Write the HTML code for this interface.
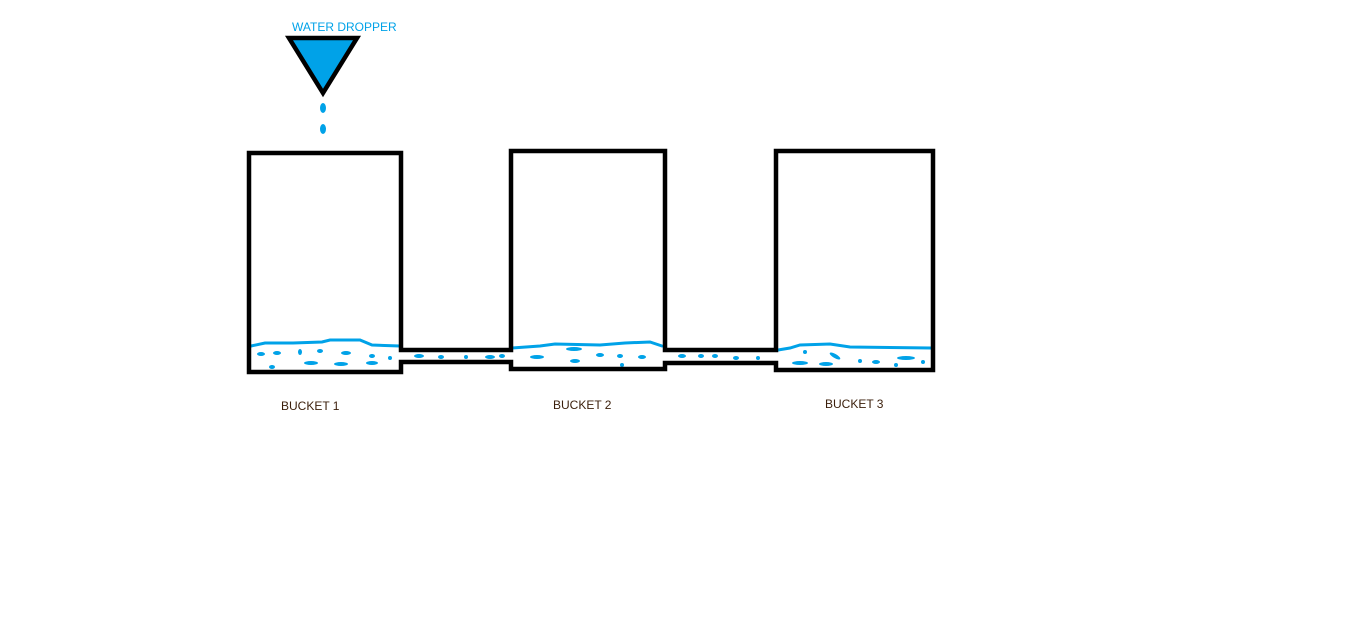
<!DOCTYPE html>
<html><head><meta charset="utf-8"><style>
html,body{margin:0;padding:0;background:#fff;width:1360px;height:623px;overflow:hidden}
svg{display:block}
text{font-family:"Liberation Sans",sans-serif;font-size:12px}
</style></head><body>
<svg width="1360" height="623" viewBox="0 0 1360 623">
<text x="292" y="31" fill="#00a2e8">WATER DROPPER</text>
<polygon points="289,38 357,38 323,93" fill="#00a2e8" stroke="#000" stroke-width="4.5" stroke-linejoin="miter"/>
<ellipse cx="323" cy="108" rx="3" ry="5" fill="#00a2e8"/>
<ellipse cx="323" cy="129" rx="3" ry="5" fill="#00a2e8"/>
<g stroke="#00a2e8" stroke-width="3" fill="none" stroke-linecap="round">
<path d="M251,346 L265,343 L293,343 L322,342 L330,340 L360,340 L372,345 L400,346"/>
<path d="M512,348 L540,346 L555,344 L600,345 L625,343 L650,342 L662,346"/>
<path d="M778,350 L790,348 L800,345 L830,344 L850,347 L931,348"/>
</g>
<g fill="#00a2e8">
<ellipse cx="261" cy="354" rx="4" ry="2"/><ellipse cx="277" cy="353" rx="4" ry="2"/>
<ellipse cx="300" cy="352" rx="2" ry="3"/><ellipse cx="320" cy="351" rx="3" ry="2"/>
<ellipse cx="346" cy="353" rx="5" ry="2"/><ellipse cx="372" cy="356" rx="3" ry="2"/>
<ellipse cx="390" cy="358" rx="2" ry="2"/><ellipse cx="311" cy="363" rx="7" ry="2"/>
<ellipse cx="341" cy="364" rx="7" ry="2"/><ellipse cx="372" cy="363" rx="6" ry="2"/>
<ellipse cx="272" cy="367" rx="3" ry="2"/>
<ellipse cx="419" cy="356" rx="5" ry="2"/><ellipse cx="441" cy="357" rx="3" ry="2"/>
<ellipse cx="466" cy="357" rx="2" ry="2"/><ellipse cx="490" cy="357" rx="5" ry="2"/><ellipse cx="502" cy="356" rx="3" ry="2"/>
<ellipse cx="537" cy="357" rx="7" ry="2"/><ellipse cx="575" cy="361" rx="5" ry="2"/>
<ellipse cx="600" cy="355" rx="4" ry="2"/><ellipse cx="620" cy="356" rx="3" ry="2"/>
<ellipse cx="642" cy="357" rx="4" ry="2"/><ellipse cx="622" cy="365" rx="2" ry="2"/>
<ellipse cx="574" cy="349" rx="8" ry="2"/>
<ellipse cx="682" cy="356" rx="4" ry="2"/><ellipse cx="701" cy="356" rx="3" ry="2"/>
<ellipse cx="715" cy="356" rx="3" ry="2"/><ellipse cx="736" cy="358" rx="3" ry="2"/><ellipse cx="758" cy="358" rx="2" ry="2"/>
<ellipse cx="805" cy="352" rx="2" ry="2"/><ellipse cx="800" cy="363" rx="8" ry="2"/>
<ellipse cx="826" cy="364" rx="7" ry="2"/><ellipse cx="835" cy="356" rx="6" ry="2" transform="rotate(30 835 356)"/>
<ellipse cx="860" cy="361" rx="2" ry="2"/><ellipse cx="876" cy="362" rx="4" ry="2"/>
<ellipse cx="906" cy="358" rx="9" ry="2"/><ellipse cx="896" cy="365" rx="2" ry="2"/><ellipse cx="923" cy="362" rx="2" ry="2"/>
</g>
<path d="M249,153 V372 H401 V362 H511 V369 H665 V363 H776 V370 H933 V151 H776 V350 H665 V151 H511 V350 H401 V153 Z" fill="none" stroke="#000" stroke-width="4.5" stroke-linejoin="miter"/>
<text x="281" y="410" fill="#3a1e0a">BUCKET 1</text>
<text x="553" y="409" fill="#3a1e0a">BUCKET 2</text>
<text x="825" y="408" fill="#3a1e0a">BUCKET 3</text>
</svg>
</body></html>
